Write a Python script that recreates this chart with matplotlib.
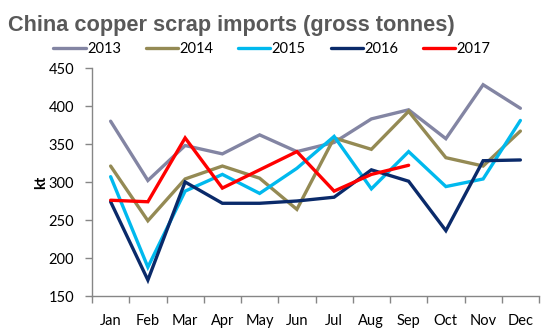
import numpy as np
import matplotlib
matplotlib.use("Agg")
from matplotlib import pyplot as plt

months = ['Jan', 'Feb', 'Mar', 'Apr', 'May', 'Jun',
          'Jul', 'Aug', 'Sep', 'Oct', 'Nov', 'Dec']

# imports per month, kt
y2013 = [380, 302, 348, 337, 362, 340, 352, 383, 395, 357, 428, 397]
y2014 = [321, 249, 304, 321, 305, 264, 358, 343, 393, 332, 321, 367]
y2015 = [307, 188, 288, 310, 285, 318, 360, 291, 340, 294, 304, 381]
y2016 = [274, 171, 300, 272, 272, 275, 280, 316, 301, 236, 328, 329]
y2017 = [276, 274, 358, 292, 316, 340, 288, 310, 322]

series = [('2013', y2013, '#8385A3'),
          ('2014', y2014, '#948A54'),
          ('2015', y2015, '#00B9EE'),
          ('2016', y2016, '#0A2A6A'),
          ('2017', y2017, '#FF0000')]

plt.rcParams['font.family'] = ['Lato', 'DejaVu Sans']

fig = plt.figure(figsize=(5.51, 3.32), dpi=100)
ax = fig.add_axes([92/551, 1-296/332, (539-92)/551, (296-68)/332])

x = np.arange(12)
for name, vals, col in series:
    ax.plot(x[:len(vals)], vals, color=col, lw=2.4, label=name,
            solid_joinstyle='miter', solid_capstyle='round')

ax.set_xlim(-0.5, 11.5)
ax.set_ylim(150, 450)
ax.set_yticks(np.arange(150, 451, 50))
ax.set_xticks(x)
ax.set_xticklabels(months)
ax.set_xticks(np.arange(-0.5, 12, 1), minor=True)
ax.tick_params(axis='x', which='major', length=0, pad=13, labelsize=10.5)
ax.tick_params(axis='x', which='minor', length=5, color='#868686', width=1)
ax.tick_params(axis='y', length=5, color='#868686', width=1, labelsize=10.5, pad=8)

for s in ['top', 'right']:
    ax.spines[s].set_visible(False)
for s in ['left', 'bottom']:
    ax.spines[s].set_color('#868686')
    ax.spines[s].set_linewidth(1)

ax.set_ylabel('kt', fontweight='bold', fontsize=10.5, labelpad=0)

fig.text(8/551, 1-31/332, 'China copper scrap imports (gross tonnes)',
         fontsize=15.7, fontweight='bold', color='#595959',
         family='Liberation Sans')

fig.legend(loc='center', bbox_to_anchor=(272/551, 1-49/332), ncol=5,
           frameon=False, fontsize=10.5, handlelength=2.2, handletextpad=0.1,
           columnspacing=1.7)

fig.savefig('out.png', dpi=100)
